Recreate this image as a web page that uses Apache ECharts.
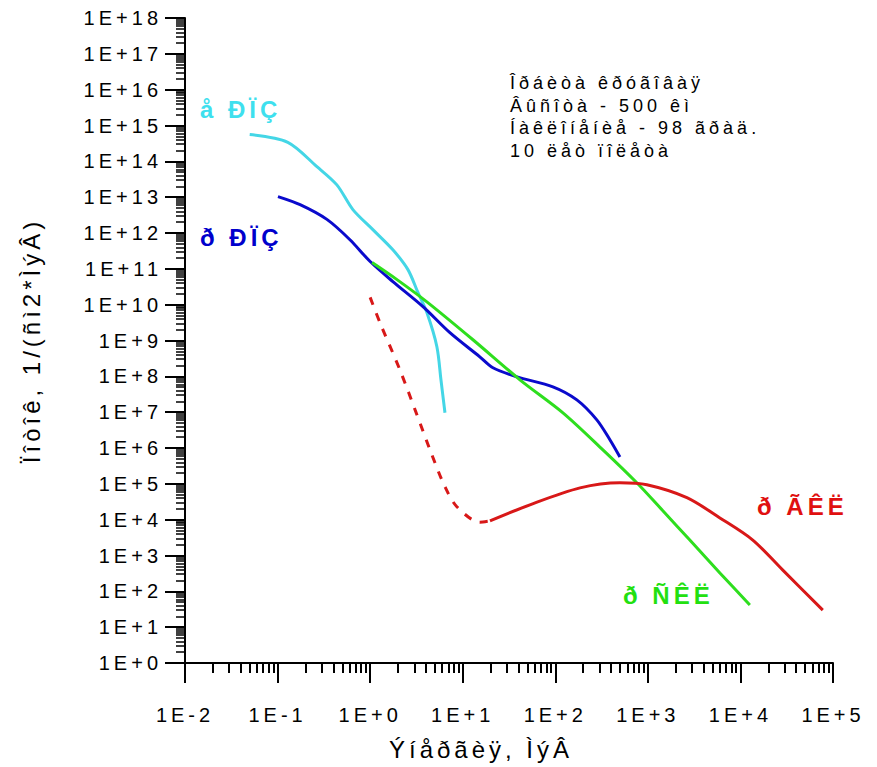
<!DOCTYPE html>
<html><head><meta charset="utf-8">
<script src="https://cdn.jsdelivr.net/npm/echarts@6/dist/echarts.min.js"></script>
<style>
html,body{margin:0;padding:0;background:#fff}
#c{width:877px;height:767px}
#c text{letter-spacing:4px}
</style>
</head><body><div id="c"></div>
<script>
// ---- data (energy in MeV, flux in 1/(cm2*MeV)) ----
const eRpzE = [0.05, 0.129, 0.266, 0.437, 0.651, 1.07, 1.76, 2.56, 3.28, 4.10, 5.26, 5.82, 6.43];
const eRpzF = [5.6e14, 3.4e14, 7.1e13, 2.2e13, 4.5e12, 1.24e12, 3.4e11, 9.5e10, 2.2e10, 6.0e9, 6.7e8, 8.0e7, 9.6e6];

const pRpzE = [0.101, 0.175, 0.341, 0.605, 1.0, 1.76, 3.72, 7.27, 15.3, 21.2, 38.5, 94.2, 171, 281, 389, 499];
const pRpzF = [1.04e13, 6.2e12, 2.4e12, 6.5e11, 1.6e11, 4.4e10, 8.8e9, 1.65e9, 3.5e8, 1.74e8, 9.7e7, 5.1e7, 2.2e7, 6.1e6, 1.7e6, 5.6e5];

const pSklE = [1.05, 1.95, 4.1, 12.9, 41.5, 121, 327, 760, 1452, 2840, 6000, 12640];
const pSklF = [1.5e11, 5.0e10, 1.2e10, 1.05e9, 8.0e7, 9.6e6, 8.9e5, 1.07e5, 1.77e4, 2.7e3, 326, 41.7];

const pGklDashE = [1.0, 1.28, 2.10, 3.2, 4.65, 6.43, 8.65, 15.3, 19.7];
const pGklDashF = [1.6e10, 3.1e9, 1.5e8, 8.5e6, 6.4e5, 8.3e4, 2.3e4, 8.5e3, 9.2e3];

const pGklE = [19.7, 53.2, 185, 499, 975, 2640, 6000, 13600, 28700, 77600];
const pGklF = [9.2e3, 2.6e4, 7.7e4, 1.07e5, 9.4e4, 4.1e4, 1.12e4, 2.7e3, 3.9e2, 30];

const seriesNames = ['å ÐÏÇ', 'ð ÐÏÇ', 'ð ÑÊË', 'ð ÃÊË'];
const xTitle = 'Ýíåðãèÿ, ÌýÂ';
const yTitle = 'Ïîòîê, 1/(ñì2*ÌýÂ)';
const noteLines = ['Îðáèòà êðóãîâàÿ', 'Âûñîòà - 500 êì', 'Íàêëîíåíèå - 98 ãðàä.', '10 ëåò ïîëåòà'];

const xMin = 1e-2, xMax = 1e5, yMin = 1, yMax = 1e18;

// ---- helpers ----
const pairs = (xs, ys) => xs.map((x, i) => [x, ys[i]]);
function minorVals(lo, hi) {
  const out = [];
  for (let e = lo; e < hi; e++) for (let m = 2; m <= 9; m++) out.push(m * Math.pow(10, e));
  return out;
}
const fmt = v => { const e = Math.round(Math.log10(v)); return '1E' + (e < 0 ? '-' : '+') + Math.abs(e); };
const FONT = "'Liberation Sans Narrow','Arial Narrow','Liberation Sans',Arial,sans-serif";

const chart = echarts.init(document.getElementById('c'), null, {renderer: 'svg'});
const grid = {left: 185, right: 44, top: 18, bottom: 104, containLabel: false};

const lineSeries = (name, xs, ys, color, dashed) => ({
  name, type: 'line', data: pairs(xs, ys), xAxisIndex: 0, yAxisIndex: 0,
  showSymbol: false, symbol: 'none', smooth: 0.3, silent: true, z: 5,
  lineStyle: {color, width: 3, type: dashed ? [8, 9] : 'solid'}
});

chart.setOption({
  backgroundColor: '#fff',
  animation: false,
  grid,
  xAxis: [{
    type: 'log', logBase: 10, min: xMin, max: xMax, interval: 1, position: 'bottom',
    name: xTitle, nameLocation: 'middle', nameGap: 74,
    nameTextStyle: {fontSize: 24, color: '#000', fontFamily: FONT, padding: [0, 56, 0, 0]},
    axisLine: {show: true, onZero: false, lineStyle: {color: '#000', width: 2}},
    axisTick: {show: true, inside: false, length: 20, lineStyle: {color: '#000', width: 2}},
    axisLabel: {show: true, formatter: fmt, margin: 42, fontSize: 20, color: '#000', fontFamily: FONT},
    splitLine: {show: false}, minorTick: {show: false}
  }, {
    type: 'log', logBase: 10, min: xMin, max: xMax, position: 'bottom',
    axisLine: {show: false},
    axisTick: {show: true, inside: false, length: 10, customValues: minorVals(-2, 5), lineStyle: {color: '#000', width: 2}},
    axisLabel: {show: false}, splitLine: {show: false}
  }],
  yAxis: [{
    type: 'log', logBase: 10, min: yMin, max: yMax, interval: 1, position: 'left',
    name: yTitle, nameLocation: 'middle', nameGap: 142, nameRotate: 90,
    nameTextStyle: {fontSize: 24, color: '#000', fontFamily: FONT},
    axisLine: {show: true, onZero: false, lineStyle: {color: '#000', width: 2}},
    axisTick: {show: true, inside: false, length: 20, lineStyle: {color: '#000', width: 2}},
    axisLabel: {show: true, formatter: fmt, margin: 23, fontSize: 20, color: '#000', fontFamily: FONT},
    splitLine: {show: false}, minorTick: {show: false}
  }, {
    type: 'log', logBase: 10, min: yMin, max: yMax, position: 'left',
    axisLine: {show: false},
    axisTick: {show: true, inside: false, length: 9, customValues: minorVals(0, 18), lineStyle: {color: '#000', width: 1.5}},
    axisLabel: {show: false}, splitLine: {show: false}
  }],
  series: [
    lineSeries(seriesNames[0], eRpzE, eRpzF, '#44d6e6', false),
    lineSeries(seriesNames[1], pRpzE, pRpzF, '#0a0acc', false),
    lineSeries(seriesNames[2], pSklE, pSklF, '#2ede1e', false),
    lineSeries(seriesNames[3] + ' ', pGklDashE, pGklDashF, '#d81818', true),
    lineSeries(seriesNames[3], pGklE, pGklF, '#d81818', false)
  ],
  graphic: [
    {type: 'text', left: 200, top: 97, style: {text: seriesNames[0], fill: '#3ee0ee', font: 'bold 24px ' + FONT}},
    {type: 'text', left: 200, top: 225, style: {text: seriesNames[1], fill: '#0000cc', font: 'bold 24px ' + FONT}},
    {type: 'text', left: 623, top: 583, style: {text: seriesNames[2], fill: '#22e010', font: 'bold 24px ' + FONT}},
    {type: 'text', left: 757, top: 494, style: {text: seriesNames[3], fill: '#e01010', font: 'bold 24px ' + FONT}},
    {type: 'text', left: 510, top: 72, style: {text: noteLines.join('\n'), fill: '#000', font: '18px ' + FONT, lineHeight: 22.5}}
  ]
});
</script></body></html>
